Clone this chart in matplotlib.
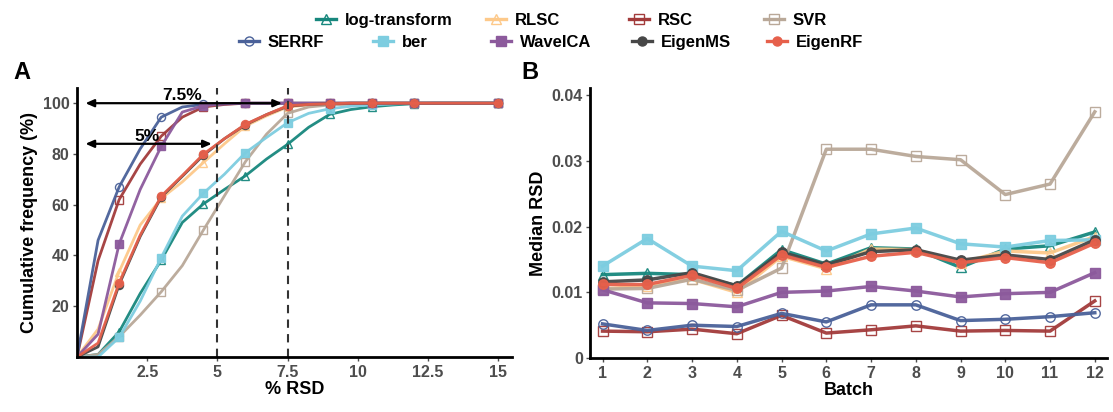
import matplotlib
matplotlib.use("Agg")
import matplotlib.pyplot as plt
from matplotlib.lines import Line2D

plt.rcParams['font.family'] = ['Liberation Sans', 'DejaVu Sans']
plt.rcParams['font.weight'] = 'bold'

# ---------------- data ----------------
methods = ["log-transform", "RLSC", "RSC", "SVR", "SERRF", "ber", "WaveICA", "EigenMS", "EigenRF"]

rsd_x = [0, 0.75, 1.5, 2.25, 3, 3.75, 4.5, 5.25, 6, 6.75, 7.5, 8.25, 9, 9.75,
         10.5, 11.25, 12, 12.75, 13.5, 14.25, 15]

cum_log = [0, 1, 9.9, 25, 38.2, 53, 60.3, 66, 71.4, 78, 83.8, 90.5, 95.6, 97.5,
           98.6, 99.3, 99.8, 100, 100, 100, 100]
cum_rlsc = [0, 11, 33.6, 52, 62.5, 69, 76.6, 84, 91, 95, 98.5, 99.3, 99.7, 100,
            100, 100, 100, 100, 100, 100, 100]
cum_rsc = [0, 38, 62, 76, 87, 94.5, 98.5, 99.5, 100, 100, 100, 100, 100, 100,
           100, 100, 100, 100, 100, 100, 100]
cum_svr = [0, 1, 8, 16.5, 25.7, 36, 50, 63.5, 77, 87.8, 96, 98.5, 99.3, 99.6,
           99.7, 99.8, 100, 100, 100, 100, 100]
cum_serrf = [0, 46, 67, 82, 94.5, 98.5, 99.5, 99.8, 100, 100, 100, 100, 100, 100,
             100, 100, 100, 100, 100, 100, 100]
cum_ber = [0, 0, 7.7, 22, 39.2, 55.5, 64.5, 72, 80.5, 86.5, 92.3, 96, 97.8, 98.8,
           99.3, 99.7, 100, 100, 100, 100, 100]
cum_wave = [0, 9, 44.5, 66, 83, 96.5, 99, 99.7, 100, 100, 100, 100, 100, 100,
            100, 100, 100, 100, 100, 100, 100]
cum_eigms = [0, 4, 28.5, 47.5, 63, 71.2, 79.5, 86, 91.5, 95.5, 98.8, 99.5, 99.8, 100,
             100, 100, 100, 100, 100, 100, 100]
cum_eigrf = [0, 5.5, 29.2, 48, 63.4, 71.5, 79.9, 86, 91.7, 95.5, 99, 99.5, 99.8, 100,
             100, 100, 100, 100, 100, 100, 100]

batch = [1, 2, 3, 4, 5, 6, 7, 8, 9, 10, 11, 12]
med_log = [0.0127, 0.0129, 0.0127, 0.0110, 0.0165, 0.0143, 0.0168, 0.0166, 0.0138, 0.0166, 0.0171, 0.0192]
med_rlsc = [0.0105, 0.0110, 0.0120, 0.0100, 0.0155, 0.0136, 0.0166, 0.0165, 0.0145, 0.0163, 0.0160, 0.0185]
med_rsc = [0.0041, 0.0040, 0.0044, 0.0037, 0.0065, 0.0038, 0.0043, 0.0049, 0.0041, 0.0042, 0.0041, 0.0087]
med_svr = [0.0105, 0.0106, 0.0120, 0.0103, 0.0137, 0.0318, 0.0318, 0.0307, 0.0302, 0.0249, 0.0265, 0.0375]
med_serrf = [0.0052, 0.0042, 0.0050, 0.0048, 0.0068, 0.0055, 0.0081, 0.0081, 0.0057, 0.0059, 0.0063, 0.0069]
med_ber = [0.0140, 0.0182, 0.0140, 0.0133, 0.0193, 0.0163, 0.0189, 0.0198, 0.0174, 0.0169, 0.0179, 0.0180]
med_wave = [0.0104, 0.0084, 0.0083, 0.0078, 0.0100, 0.0102, 0.0109, 0.0102, 0.0093, 0.0098, 0.0100, 0.0130]
med_eigms = [0.0116, 0.0119, 0.0130, 0.0110, 0.0161, 0.0142, 0.0162, 0.0165, 0.0149, 0.0157, 0.0150, 0.0180]
med_eigrf = [0.0112, 0.0112, 0.0126, 0.0106, 0.0157, 0.0138, 0.0155, 0.0161, 0.0145, 0.0153, 0.0145, 0.0175]

cum_series = [cum_log, cum_rlsc, cum_rsc, cum_svr, cum_serrf, cum_ber, cum_wave, cum_eigms, cum_eigrf]
med_series = [med_log, med_rlsc, med_rsc, med_svr, med_serrf, med_ber, med_wave, med_eigms, med_eigrf]

colors = ["#17877D", "#FDC98A", "#A23B3B", "#B9A898", "#4A6199", "#7DCDE0", "#8C5A9C", "#474747", "#E6604B"]
markers = ["^", "^", "s", "s", "o", "s", "s", "o", "o"]
filled = [False, False, False, False, False, True, True, True, True]

mark_idx = [2, 4, 6, 8, 10, 12, 14, 16, 20]

W, H = 1113, 412
fig = plt.figure(figsize=(W / 100, H / 100), dpi=100)
axA = fig.add_axes([0.0692, 0.1335, 0.391, 0.653])
axB = fig.add_axes([0.5305, 0.131, 0.464, 0.655])

tick_color = "#4D4D4D"

def style(ax):
    for s in ["top", "right"]:
        ax.spines[s].set_visible(False)
    for s in ["left", "bottom"]:
        ax.spines[s].set_linewidth(2.0)
        ax.spines[s].set_color("black")
    ax.tick_params(axis="both", colors=tick_color, labelsize=11.5, length=3, width=1,
                   labelcolor=tick_color, pad=2.5)
    for lab in ax.get_xticklabels() + ax.get_yticklabels():
        lab.set_fontweight("bold")

# Panel A
for ys, c, m, f in zip(cum_series, colors, markers, filled):
    axA.plot(rsd_x, ys, color=c, lw=2.0, marker=m, markevery=mark_idx, ms=5.8,
             mfc=(c if f else "none"), mec=c, mew=1.0, alpha=0.95)
axA.axvline(5, color="#333333", ls=(0, (4, 3)), lw=1.5)
axA.axvline(7.5, color="#333333", ls=(0, (4, 3)), lw=1.5)
axA.annotate("", xy=(4.8, 84), xytext=(0.3, 84),
             arrowprops=dict(arrowstyle="<|-|>,head_length=0.5,head_width=0.22", color="black", lw=1.6,
                             shrinkA=0, shrinkB=0))
axA.annotate("", xy=(7.3, 100), xytext=(0.3, 100),
             arrowprops=dict(arrowstyle="<|-|>,head_length=0.5,head_width=0.22", color="black", lw=1.6,
                             shrinkA=0, shrinkB=0))
axA.text(2.5, 87, "5%", ha="center", va="center", fontsize=12.5, fontweight="bold")
axA.text(3.75, 103, "7.5%", ha="center", va="center", fontsize=12.5, fontweight="bold")
axA.set_xlim(0, 15.5)
axA.set_ylim(0, 106)
axA.set_xticks([2.5, 5, 7.5, 10, 12.5, 15])
axA.set_xticklabels(["2.5", "5", "7.5", "10", "12.5", "15"])
axA.set_yticks([20, 40, 60, 80, 100])
axA.set_xlabel("% RSD", fontsize=13, fontweight="bold", labelpad=1)
axA.set_ylabel("Cumulative frequency (%)", fontsize=13, fontweight="bold", labelpad=3)
style(axA)

# Panel B
for ys, c, m, f in zip(med_series, colors, markers, filled):
    axB.plot(batch, ys, color=c, lw=2.5, marker=m, ms=6.8,
             mfc=(c if f else "none"), mec=c, mew=1.0, alpha=0.95)
axB.set_xlim(0.73, 12.27)
axB.set_ylim(0, 0.0411)
axB.set_xticks(batch)
axB.set_yticks([0, 0.01, 0.02, 0.03, 0.04])
axB.set_yticklabels(["0", "0.01", "0.02", "0.03", "0.04"])
axB.set_xlabel("Batch", fontsize=13, fontweight="bold", labelpad=1)
axB.set_ylabel("Median RSD", fontsize=13, fontweight="bold", labelpad=3)
style(axB)

fig.text(0.012, 0.825, "A", fontsize=17, fontweight="bold", va="center")
fig.text(0.468, 0.825, "B", fontsize=17, fontweight="bold", va="center")

# Legend (two rows, entries placed individually)
row_items = [[0, 1, 2, 3], [4, 5, 6, 7, 8]]
row_text_x = [[345, 515, 658, 793], [268, 402, 520, 661, 796]]
row_y = [19, 41]
for items, xs, yp in zip(row_items, row_text_x, row_y):
    yf = 1 - yp / H
    for i, tx in zip(items, xs):
        x0, x1 = (tx - 29) / W, (tx - 9) / W
        fig.add_artist(Line2D([x0, x1], [yf, yf], transform=fig.transFigure,
                              color=colors[i], lw=2.4))
        fig.add_artist(Line2D([(x0 + x1) / 2], [yf], transform=fig.transFigure,
                              color=colors[i], lw=0, marker=markers[i], ms=6.5,
                              mfc=(colors[i] if filled[i] else "none"), mec=colors[i], mew=1.0))
        fig.text(tx / W, yf, methods[i], ha="left", va="center_baseline",
                 fontsize=12, fontweight="bold")

fig.savefig("out.png", dpi=100)
